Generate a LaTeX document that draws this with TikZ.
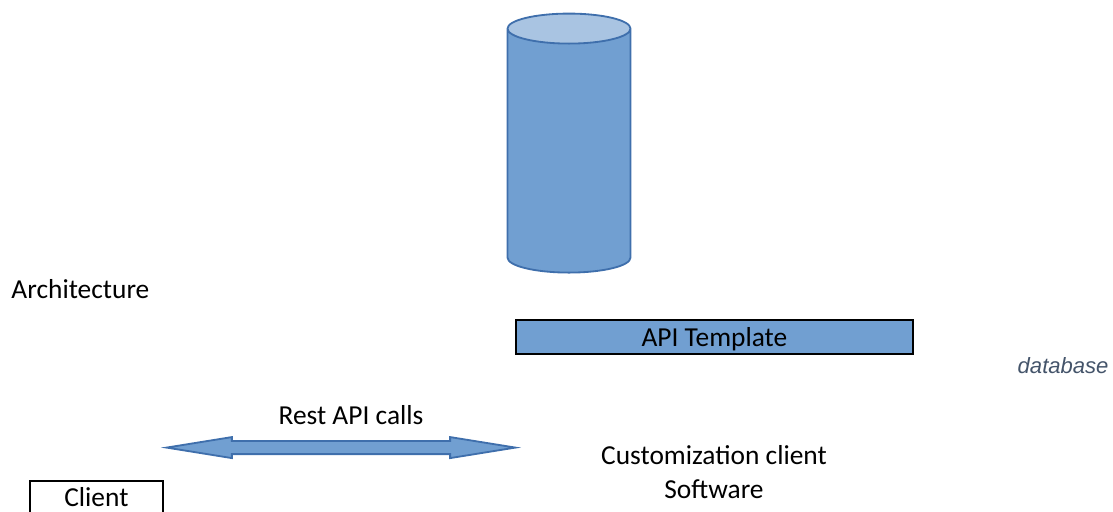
\documentclass[tikz,border=0pt]{standalone}
\usepackage{fontspec}
\setmainfont{Carlito}
\newfontfamily\notefont{Liberation Sans}
\usetikzlibrary{shapes.geometric, shapes.arrows, positioning}
\definecolor{bodyblue}{HTML}{719FD1}
\definecolor{endblue}{HTML}{A9C4E2}
\definecolor{edgeblue}{HTML}{3F6FAC}
\definecolor{noteslate}{HTML}{44546A}
\tikzset{
	every node/.style={
		font=\fontsize{19.5}{24}\selectfont,
		inner sep=0pt
	},
	database/.style={
		shape=cylinder,
		shape border rotate=90,
		shape aspect=0.5,
		inner sep=0.75cm,
		minimum width=3.075cm,
		minimum height=6.475cm,
		cylinder uses custom fill,
		cylinder body fill=bodyblue,
		cylinder end fill=endblue,
		draw=edgeblue,
		line width=1.3pt
	},
	box/.style={
		shape=rectangle,
		draw=black,
		line width=1.3pt,
		text centered
	},
	calls/.style={
		shape=double arrow,
		double arrow tip angle=18.3,
		double arrow head extend=0.1cm,
		double arrow head indent=0pt,
		inner ysep=0.14cm,
		minimum height=8.72cm,
		fill=bodyblue,
		draw=edgeblue,
		line width=1.3pt
	}
}

\begin{document}
\begin{tikzpicture}
	\clip (0,0) rectangle (27.825,12.8);
	
	% Base de datos
	\node[database] (db) at (14.225,8.8625) {};
	\node[font=\notefont\itshape\fontsize{15.7}{18}\selectfont, text=noteslate, anchor=east] (dbnote) at (27.72,3.65) {database};
	
	% Plantilla
	\node[box, fill=bodyblue, text depth=0pt, minimum width=9.925cm, minimum height=0.85cm] (template) at (17.86,4.375) {API Template};
	
	% Flecha
	\node[calls] (restarrow) at (8.525,1.61) {};
	\node[above=0.37cm of restarrow, xshift=0.25cm] (resttext) {Rest API calls};
	
	% Cliente
	\node[box, minimum width=3.325cm, minimum height=0.8cm] (client) at (2.41,0.375) {Client};
	
	% Etiquetas
	\node[anchor=west] (archtext) at (0.28,5.58) {Architecture};
	\node[align=center] (custtext) at (17.85,1.0) {Customization client\\Software};
	
\end{tikzpicture}
\end{document}
